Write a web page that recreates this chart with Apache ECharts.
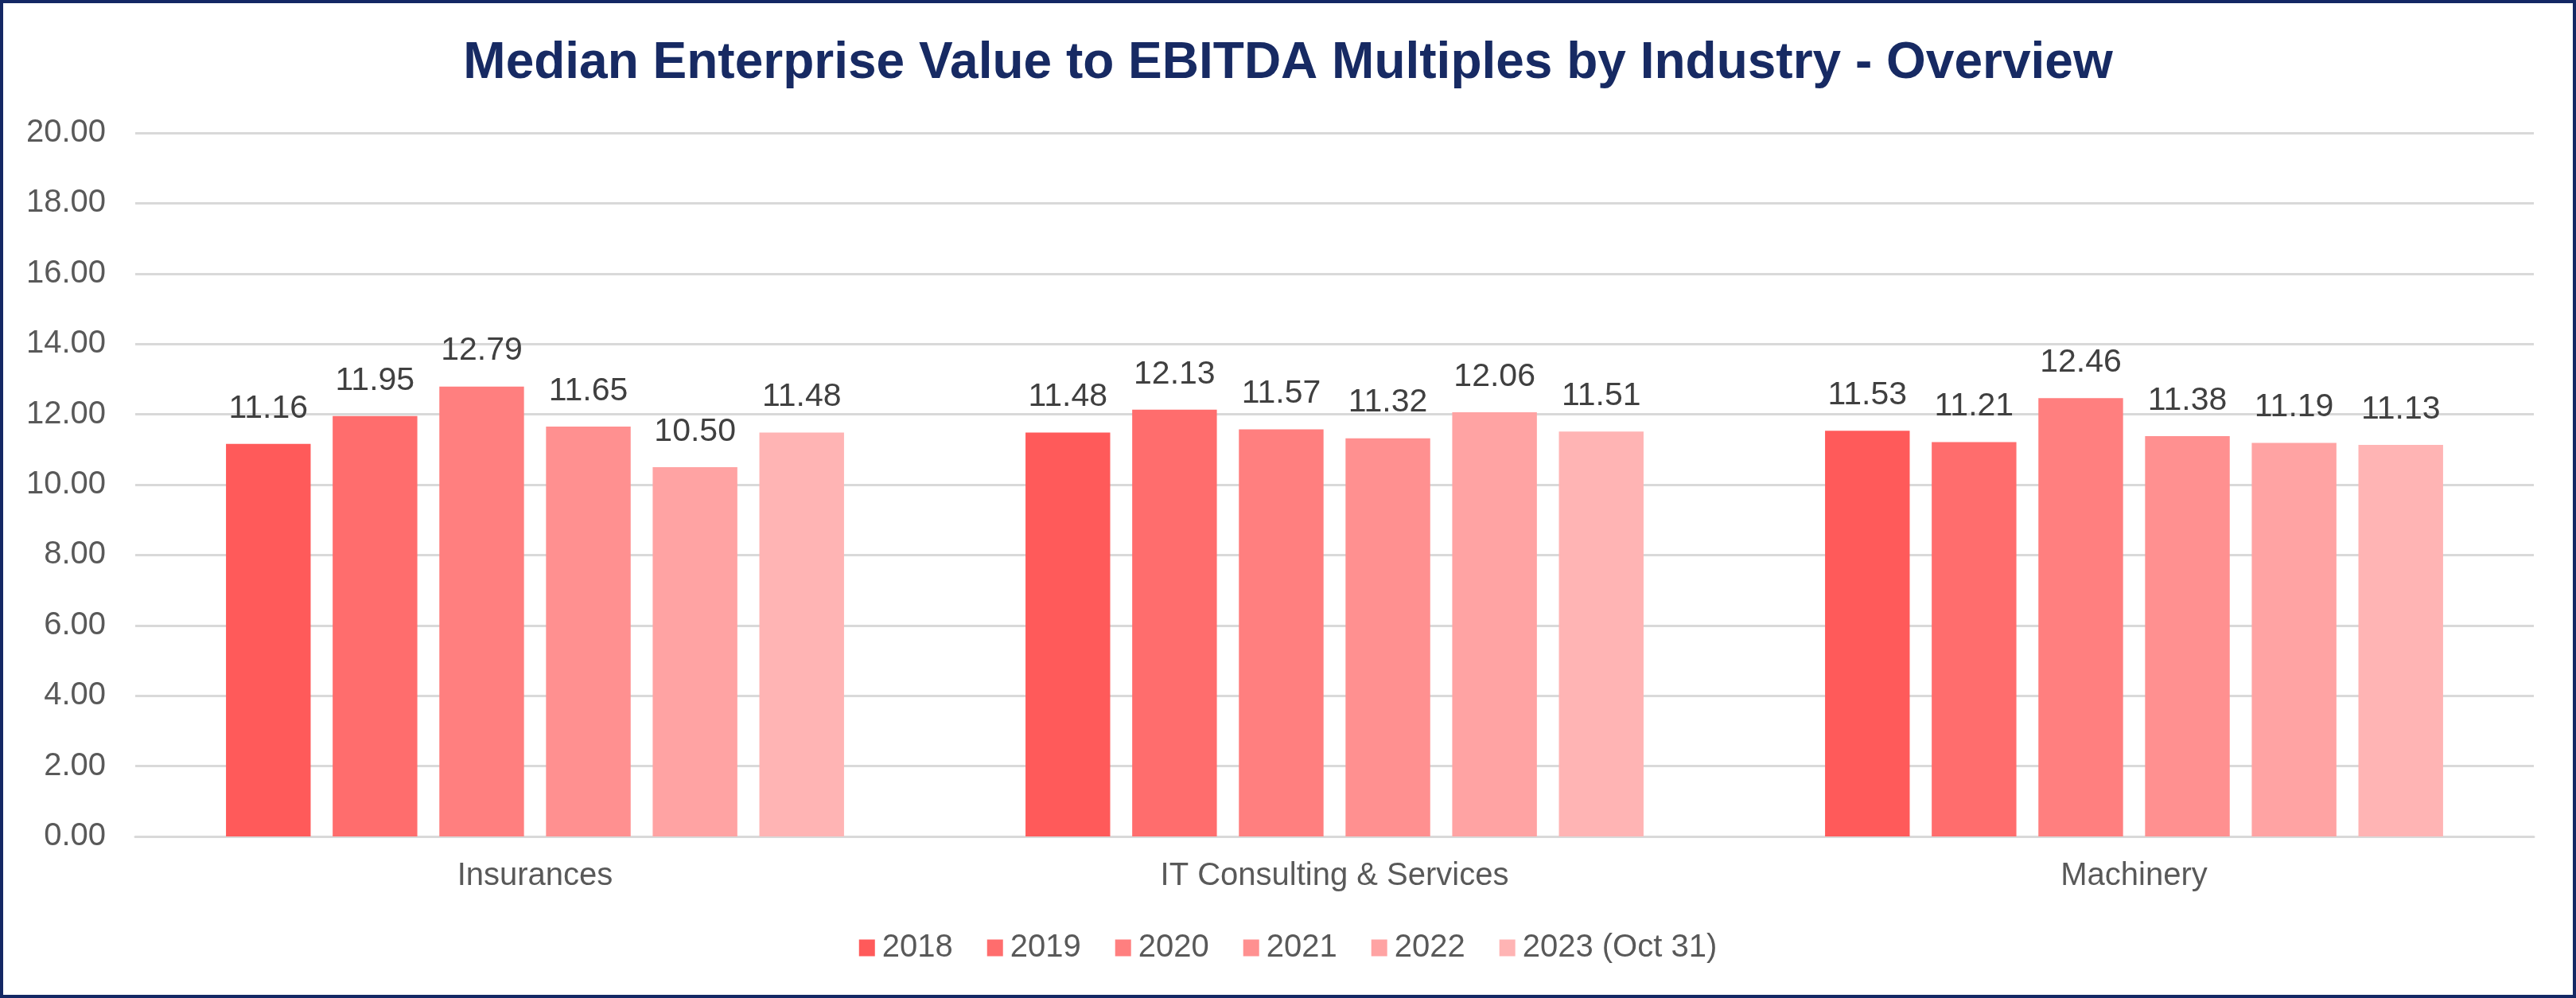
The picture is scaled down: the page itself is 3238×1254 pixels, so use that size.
<!DOCTYPE html>
<html>
<head>
<meta charset="utf-8">
<script src="https://cdn.jsdelivr.net/npm/echarts@6/dist/echarts.min.js"></script>
<style>
  html, body { margin: 0; padding: 0; background: #ffffff; }
  #wrap { position: relative; width: 3238px; height: 1254px; }
  #chart { position: absolute; left: 0; top: 0; width: 3238px; height: 1254px; }
  #frame { position: absolute; left: 0; top: 0; width: 3238px; height: 1254px; box-sizing: border-box; border: 4px solid #142864; pointer-events: none; }
</style>
</head>
<body>
<div id="wrap">
  <div id="chart"></div>
  <div id="frame"></div>
</div>
<script>
const titleText = 'Median Enterprise Value to EBITDA Multiples by Industry - Overview';
const categories = ['Insurances', 'IT Consulting & Services', 'Machinery'];
const seriesNames = ['2018', '2019', '2020', '2021', '2022', '2023 (Oct 31)'];
const v2018 = [11.16, 11.48, 11.53];
const v2019 = [11.95, 12.13, 11.21];
const v2020 = [12.79, 11.57, 12.46];
const v2021 = [11.65, 11.32, 11.38];
const v2022 = [10.50, 12.06, 11.19];
const v2023 = [11.48, 11.51, 11.13];
const seriesValues = [v2018, v2019, v2020, v2021, v2022, v2023];
const colors = ['#ff5a5a', '#ff6d6d', '#ff7f7f', '#ff9090', '#ffa3a3', '#ffb4b4'];

const FONT = '"Liberation Sans", Arial, sans-serif';

const chart = echarts.init(document.getElementById('chart'), null, { renderer: 'canvas' });

const series = seriesNames.map((name, i) => ({
  name: name,
  type: 'bar',
  data: seriesValues[i],
  itemStyle: { color: colors[i] },
  barGap: '26%',
  barCategoryGap: '22.7%',
  label: {
    show: true,
    position: 'top',
    distance: 24,
    color: '#404040',
    fontSize: 41,
    fontFamily: FONT,
    formatter: p => p.value.toFixed(2)
  },
  emphasis: { disabled: true }
}));

chart.setOption({
  animation: false,
  backgroundColor: '#ffffff',
  color: colors,
  title: {
    text: titleText,
    left: 'center',
    top: 43,
    textStyle: { color: '#172a63', fontSize: 64, fontWeight: 'bold', fontFamily: FONT }
  },
  legend: {
    bottom: 38,
    left: 'center',
    itemWidth: 20,
    itemHeight: 21,
    itemGap: 43,
    icon: 'rect',
    textStyle: { color: '#595959', fontSize: 40, fontFamily: FONT, padding: [0, 0, 0, 4] },
    data: seriesNames
  },
  grid: { left: 170, right: 53, top: 167, bottom: 203, containLabel: false },
  xAxis: {
    type: 'category',
    data: categories,
    axisTick: { show: false },
    axisLine: { lineStyle: { color: '#d9d9d9', width: 3 } },
    axisLabel: { color: '#595959', fontSize: 40, fontFamily: FONT, margin: 30 }
  },
  yAxis: {
    type: 'value',
    min: 0,
    max: 20,
    interval: 2,
    axisLine: { show: false },
    axisTick: { show: false },
    splitLine: { lineStyle: { color: '#d9d9d9', width: 3 } },
    axisLabel: { color: '#595959', fontSize: 40, fontFamily: FONT, margin: 37, formatter: v => v.toFixed(2) }
  },
  series: series
});
</script>
</body>
</html>
